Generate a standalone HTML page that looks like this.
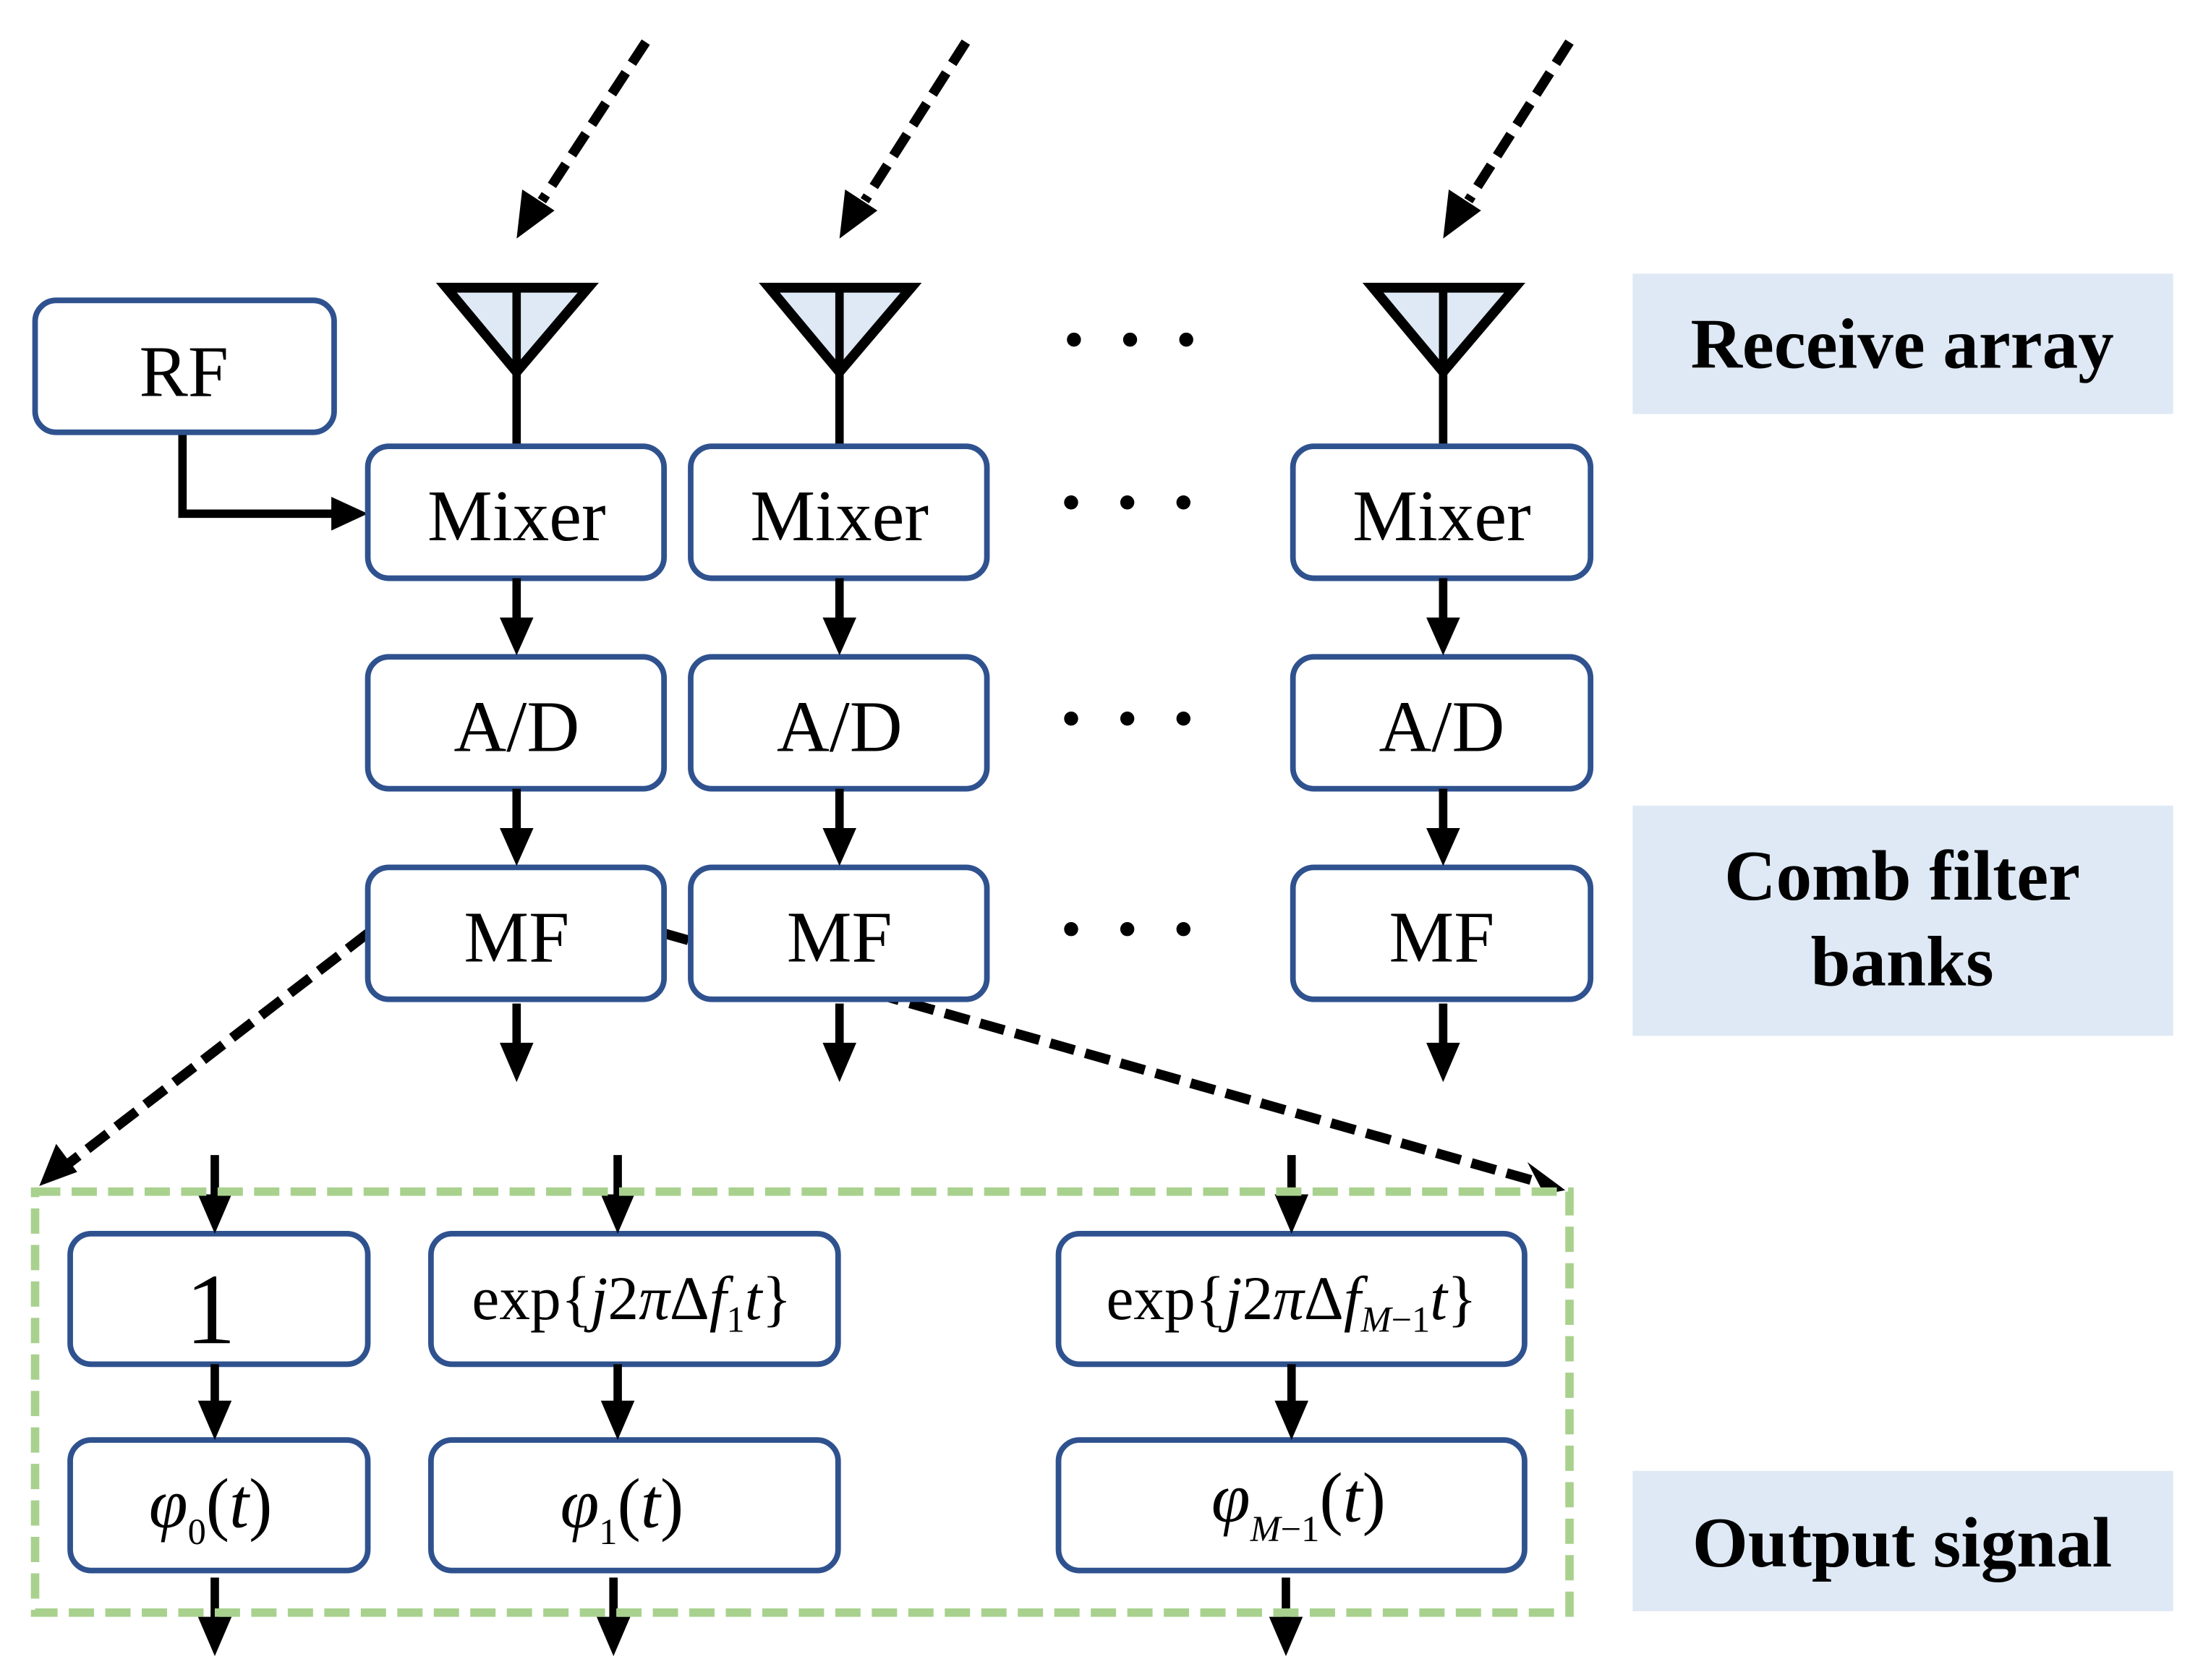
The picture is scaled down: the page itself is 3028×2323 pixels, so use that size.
<!DOCTYPE html>
<html><head><meta charset="utf-8"><style>html,body{margin:0;padding:0;background:#fff}svg{display:block}</style></head>
<body>
<svg width="3028" height="2323" viewBox="0 0 1560 1197" preserveAspectRatio="none" xmlns="http://www.w3.org/2000/svg" font-family="Liberation Serif, serif">
<g fill="#dee9f5">
<rect x="1163" y="195" width="385" height="100"/>
<rect x="1163" y="574" width="385" height="164"/>
<rect x="1163" y="1048" width="385" height="100"/>
</g>
<g font-weight="bold" font-size="51" text-anchor="middle" fill="#000">
<text x="1355" y="262">Receive array</text>
<text x="1355" y="641">Comb filter</text>
<text x="1355" y="702">banks</text>
<text x="1355" y="1116">Output signal</text>
</g>
<g stroke="#000" stroke-width="7" stroke-dasharray="18,8" fill="none">
<line x1="460" y1="30" x2="386" y2="143"/>
<line x1="688" y1="30" x2="616" y2="143"/>
<line x1="1118" y1="30" x2="1046" y2="143"/>
</g>
<g fill="#000">
<polygon points="368,170 372,135 395,150"/>
<polygon points="598,170 602,135 625,150"/>
<polygon points="1028,170 1032,135 1055,150"/>
</g>
<g stroke="#000" stroke-width="7" fill="#dee9f5">
<polygon points="318,205 419,205 368,265"/>
<polygon points="548,205 649,205 598,265"/>
<polygon points="978,205 1079,205 1028,265"/>
</g>
<g stroke="#000" stroke-width="6">
<line x1="368" y1="206" x2="368" y2="318"/>
<line x1="598" y1="206" x2="598" y2="318"/>
<line x1="1028" y1="206" x2="1028" y2="318"/>
</g>
<g stroke="#000" stroke-width="7" fill="none">
<line x1="262" y1="665" x2="45" y2="832" stroke-dasharray="18,8"/>
<line x1="473" y1="665" x2="1095" y2="842" stroke-dasharray="18,8"/>
</g>
<polygon points="28,845 40,815 55,835" fill="#000"/>
<polygon points="1115,848 1088,828 1100,851" fill="#000"/>
<polyline points="130,308 130,366 240,366" stroke="#000" stroke-width="6" fill="none"/>
<polygon points="262,366 236,354 236,378" fill="#000"/>
<g stroke="#2f528f" stroke-width="4" fill="#fff">
<rect x="25" y="214" width="213" height="94" rx="15"/>
<rect x="262" y="318" width="211" height="94" rx="15"/>
<rect x="492" y="318" width="211" height="94" rx="15"/>
<rect x="921" y="318" width="212" height="94" rx="15"/>
<rect x="262" y="468" width="211" height="94" rx="15"/>
<rect x="492" y="468" width="211" height="94" rx="15"/>
<rect x="921" y="468" width="212" height="94" rx="15"/>
<rect x="262" y="618" width="211" height="94" rx="15"/>
<rect x="492" y="618" width="211" height="94" rx="15"/>
<rect x="921" y="618" width="212" height="94" rx="15"/>
<rect x="50" y="879" width="212" height="93" rx="15"/>
<rect x="307" y="879" width="290" height="93" rx="15"/>
<rect x="754" y="879" width="332" height="93" rx="15"/>
<rect x="50" y="1026" width="212" height="93" rx="15"/>
<rect x="307" y="1026" width="290" height="93" rx="15"/>
<rect x="754" y="1026" width="332" height="93" rx="15"/>
</g>
<g stroke="#000" stroke-width="6" fill="none">
<line x1="368" y1="412" x2="368" y2="445"/><line x1="598" y1="412" x2="598" y2="445"/><line x1="1028" y1="412" x2="1028" y2="445"/>
<line x1="368" y1="562" x2="368" y2="595"/><line x1="598" y1="562" x2="598" y2="595"/><line x1="1028" y1="562" x2="1028" y2="595"/>
<line x1="368" y1="715" x2="368" y2="748"/><line x1="598" y1="715" x2="598" y2="748"/><line x1="1028" y1="715" x2="1028" y2="748"/>
<line x1="153" y1="823" x2="153" y2="856"/><line x1="440" y1="823" x2="440" y2="856"/><line x1="920" y1="823" x2="920" y2="856"/>
<line x1="153" y1="972" x2="153" y2="1003"/><line x1="440" y1="972" x2="440" y2="1003"/><line x1="920" y1="972" x2="920" y2="1003"/>
<line x1="153" y1="1124" x2="153" y2="1157"/><line x1="437" y1="1124" x2="437" y2="1157"/><line x1="916" y1="1124" x2="916" y2="1157"/>
</g>
<g fill="#000">
<polygon points="356,440 380,440 368,467"/><polygon points="586,440 610,440 598,467"/><polygon points="1016,440 1040,440 1028,467"/>
<polygon points="356,590 380,590 368,617"/><polygon points="586,590 610,590 598,617"/><polygon points="1016,590 1040,590 1028,617"/>
<polygon points="356,743 380,743 368,771"/><polygon points="586,743 610,743 598,771"/><polygon points="1016,743 1040,743 1028,771"/>
<polygon points="141,851 165,851 153,879"/><polygon points="428,851 452,851 440,879"/><polygon points="908,851 932,851 920,879"/>
<polygon points="141,998 165,998 153,1026"/><polygon points="428,998 452,998 440,1026"/><polygon points="908,998 932,998 920,1026"/>
<polygon points="141,1152 165,1152 153,1180"/><polygon points="425,1152 449,1152 437,1180"/><polygon points="904,1152 928,1152 916,1180"/>
</g>
<rect x="25" y="849" width="1093" height="300" fill="none" stroke="#a9d18e" stroke-width="6" stroke-dasharray="18,8"/>
<g fill="#000">
<circle cx="765" cy="242" r="5"/><circle cx="805" cy="242" r="5"/><circle cx="845" cy="242" r="5"/>
<circle cx="763" cy="358" r="5"/><circle cx="803" cy="358" r="5"/><circle cx="843" cy="358" r="5"/>
<circle cx="763" cy="512" r="5"/><circle cx="803" cy="512" r="5"/><circle cx="843" cy="512" r="5"/>
<circle cx="763" cy="662" r="5"/><circle cx="803" cy="662" r="5"/><circle cx="843" cy="662" r="5"/>
</g>
<g font-size="52" text-anchor="middle" fill="#000">
<text x="131" y="282">RF</text>
<text x="368" y="385">Mixer</text><text x="598" y="385">Mixer</text><text x="1027" y="385">Mixer</text>
<text x="368" y="535">A/D</text><text x="598" y="535">A/D</text><text x="1027" y="535">A/D</text>
<text x="368" y="685">MF</text><text x="598" y="685">MF</text><text x="1027" y="685">MF</text>
<text x="150" y="957" font-size="72">1</text>
</g>
<g font-size="44" fill="#000" text-anchor="middle">
<text x="450" y="940">exp{<tspan font-style="italic">j</tspan>2<tspan font-style="italic">π</tspan>Δ<tspan font-style="italic">f</tspan><tspan font-size="26" dy="9">1</tspan><tspan font-style="italic" dy="-9">t</tspan>}</text>
<text x="920" y="940">exp{<tspan font-style="italic">j</tspan>2<tspan font-style="italic">π</tspan>Δ<tspan font-style="italic">f</tspan><tspan font-size="26" dy="9" font-style="italic">M</tspan><tspan font-size="26">−1</tspan><tspan font-style="italic" dy="-9">t</tspan>}</text>
<text x="150" y="1088" font-size="50"><tspan font-style="italic">φ</tspan><tspan font-size="26" dy="12">0</tspan><tspan dy="-12">(</tspan><tspan font-style="italic">t</tspan>)</text>
<text x="443" y="1088" font-size="50"><tspan font-style="italic">φ</tspan><tspan font-size="26" dy="12">1</tspan><tspan dy="-12">(</tspan><tspan font-style="italic">t</tspan>)</text>
<text x="925" y="1084" font-size="50"><tspan font-style="italic">φ</tspan><tspan font-size="26" dy="14" font-style="italic">M</tspan><tspan font-size="26">−1</tspan><tspan dy="-14">(</tspan><tspan font-style="italic">t</tspan>)</text>
</g>
</svg>
</body></html>
